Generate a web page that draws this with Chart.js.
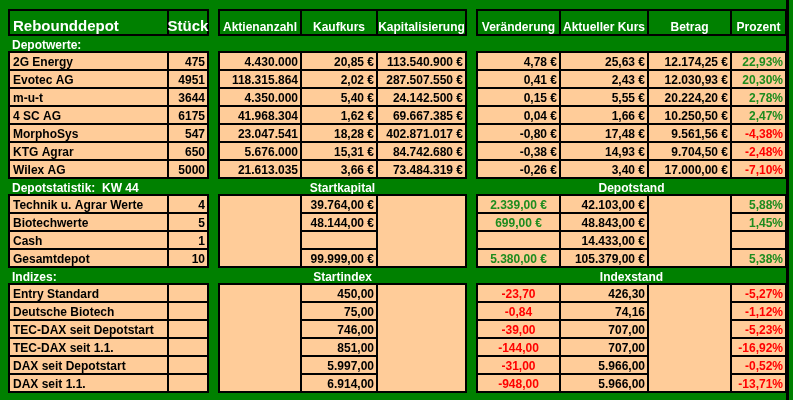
<!DOCTYPE html>
<html>
<head>
<meta charset="utf-8">
<script src="https://cdn.jsdelivr.net/npm/chart.js@4"></script>
<style>
  body { margin: 0; background: #008000; }
  #wrap { width: 793px; height: 400px; }
</style>
</head>
<body>
<div id="wrap"><canvas id="tab"></canvas></div>
<script>
// Depotwerte
const depotNames = ['2G Energy', 'Evotec AG', 'm-u-t', '4 SC AG', 'MorphoSys', 'KTG Agrar', 'Wilex AG'];
const depotStueck = ['475', '4951', '3644', '6175', '547', '650', '5000'];
const aktienanzahl = ['4.430.000', '118.315.864', '4.350.000', '41.968.304', '23.047.541', '5.676.000', '21.613.035'];
const kaufkurs = ['20,85 €', '2,02 €', '5,40 €', '1,62 €', '18,28 €', '15,31 €', '3,66 €'];
const kapitalisierung = ['113.540.900 €', '287.507.550 €', '24.142.500 €', '69.667.385 €', '402.871.017 €', '84.742.680 €', '73.484.319 €'];
const veraenderung = ['4,78 €', '0,41 €', '0,15 €', '0,04 €', '-0,80 €', '-0,38 €', '-0,26 €'];
const aktKurs = ['25,63 €', '2,43 €', '5,55 €', '1,66 €', '17,48 €', '14,93 €', '3,40 €'];
const betrag = ['12.174,25 €', '12.030,93 €', '20.224,20 €', '10.250,50 €', '9.561,56 €', '9.704,50 €', '17.000,00 €'];
const prozent = ['22,93%', '20,30%', '2,78%', '2,47%', '-4,38%', '-2,48%', '-7,10%'];

// Depotstatistik
const statNames = ['Technik u. Agrar Werte', 'Biotechwerte', 'Cash', 'Gesamtdepot'];
const statStueck = ['4', '5', '1', '10'];
const statStartkapital = ['39.764,00 €', '48.144,00 €', '', '99.999,00 €'];
const statVeraenderung = ['2.339,00 €', '699,00 €', '', '5.380,00 €'];
const statDepotstand = ['42.103,00 €', '48.843,00 €', '14.433,00 €', '105.379,00 €'];
const statProzent = ['5,88%', '1,45%', '', '5,38%'];

// Indizes
const indexNames = ['Entry Standard', 'Deutsche Biotech', 'TEC-DAX seit Depotstart', 'TEC-DAX seit 1.1.', 'DAX seit Depotstart', 'DAX seit 1.1.'];
const indexStart = ['450,00', '75,00', '746,00', '851,00', '5.997,00', '6.914,00'];
const indexVeraenderung = ['-23,70', '-0,84', '-39,00', '-144,00', '-31,00', '-948,00'];
const indexStand = ['426,30', '74,16', '707,00', '707,00', '5.966,00', '5.966,00'];
const indexProzent = ['-5,27%', '-1,12%', '-5,23%', '-16,92%', '-0,52%', '-13,71%'];

const headers = ['Rebounddepot', 'Stück', 'Aktienanzahl', 'Kaufkurs', 'Kapitalisierung', 'Veränderung', 'Aktueller Kurs', 'Betrag', 'Prozent'];

// Layout (Spaltenkanten und Zeilenhöhen)
const colEdges = [9, 168, 208, 219, 301, 377, 466, 477, 560, 648, 731, 786];
const cols = [[0, 1], [1, 2], [3, 4], [4, 5], [5, 6], [7, 8], [8, 9], [9, 10], [10, 11]];
const ROW_H = 18, LABEL_H = 17;

const GREEN = '#008000', FILL = '#ffcc99', POS = '#1e8c1e', NEG = '#ff0000';
const FONT = 'bold 12px "Liberation Sans", Arial, sans-serif';

function signColor(v) {
    return v.trim().startsWith('-') ? NEG : POS;
}

const tablePlugin = {
    id: 'tablePlugin',
    afterDraw(chart) {
        const ctx = chart.ctx;
        const sx = chart.scales.x, sy = chart.scales.y;
        const X = v => sx.getPixelForValue(v);
        const Y = v => sy.getPixelForValue(v);

        function cell(ci, y0, y1, text, opts = {}) {
            const c = cols[ci];
            const x0 = X(colEdges[c[0]]), x1 = X(colEdges[c[1]]);
            box(x0, x1, y0, y1, text, opts);
        }
        function box(x0, x1, py0, py1, text, opts = {}) {
            const t = Y(py0), b = Y(py1);
            ctx.fillStyle = opts.fill || FILL;
            ctx.fillRect(x0, t, x1 - x0, b - t);
            ctx.strokeStyle = '#000';
            ctx.lineWidth = 2;
            ctx.strokeRect(x0, t, x1 - x0, b - t);
            if (!text) return;
            ctx.font = opts.font || FONT;
            ctx.fillStyle = opts.color || '#000';
            ctx.textBaseline = 'alphabetic';
            const align = opts.align || 'right';
            ctx.textAlign = align;
            const ty = opts.ty !== undefined ? Y(opts.ty) : b - 4;
            const tx = align === 'left' ? x0 + 4 : align === 'center' ? (x0 + x1) / 2 : x1 - 3;
            ctx.fillText(text, tx, ty);
        }
        function label(x, yBottom, text, align) {
            ctx.font = FONT;
            ctx.fillStyle = '#fff';
            ctx.textAlign = align;
            ctx.textBaseline = 'alphabetic';
            ctx.fillText(text, X(x), Y(yBottom));
        }

        // Kopfzeile
        const h0 = 10, h1 = 35;
        headers.forEach((h, i) => {
            const big = i < 2;
            cell(i, h0, h1, h, {
                fill: GREEN, color: '#fff',
                align: i === 0 ? 'left' : 'center',
                font: big ? 'bold 15px "Liberation Sans", Arial, sans-serif' : FONT
            });
        });

        // Depotwerte
        let y = h1;
        label(12, y + 14, 'Depotwerte:', 'left');
        y += LABEL_H;
        depotNames.forEach((n, i) => {
            const a = y + i * ROW_H, b = a + ROW_H;
            cell(0, a, b, n, { align: 'left' });
            cell(1, a, b, depotStueck[i]);
            cell(2, a, b, aktienanzahl[i]);
            cell(3, a, b, kaufkurs[i]);
            cell(4, a, b, kapitalisierung[i]);
            cell(5, a, b, veraenderung[i]);
            cell(6, a, b, aktKurs[i]);
            cell(7, a, b, betrag[i]);
            cell(8, a, b, prozent[i], { color: signColor(prozent[i]) });
        });
        y += depotNames.length * ROW_H;

        // Depotstatistik
        label(12, y + 14, 'Depotstatistik:  KW 44', 'left');
        label((colEdges[3] + colEdges[6]) / 2, y + 14, 'Startkapital', 'center');
        label((colEdges[7] + colEdges[11]) / 2, y + 14, 'Depotstand', 'center');
        y += LABEL_H;
        const sEnd = y + statNames.length * ROW_H;
        cell(2, y, sEnd, '');
        cell(4, y, sEnd, '');
        cell(7, y, sEnd, '');
        statNames.forEach((n, i) => {
            const a = y + i * ROW_H, b = a + ROW_H;
            cell(0, a, b, n, { align: 'left' });
            cell(1, a, b, statStueck[i]);
            cell(3, a, b, statStartkapital[i]);
            cell(5, a, b, statVeraenderung[i], { color: POS, align: 'center' });
            cell(6, a, b, statDepotstand[i]);
            cell(8, a, b, statProzent[i], { color: POS });
        });
        y = sEnd;

        // Indizes
        label(12, y + 14, 'Indizes:', 'left');
        label((colEdges[3] + colEdges[6]) / 2, y + 14, 'Startindex', 'center');
        label((colEdges[7] + colEdges[11]) / 2, y + 14, 'Indexstand', 'center');
        y += LABEL_H;
        const iEnd = y + indexNames.length * ROW_H;
        cell(2, y, iEnd, '');
        cell(4, y, iEnd, '');
        cell(7, y, iEnd, '');
        indexNames.forEach((n, i) => {
            const a = y + i * ROW_H, b = a + ROW_H;
            cell(0, a, b, n, { align: 'left' });
            cell(1, a, b, '');
            cell(3, a, b, indexStart[i]);
            cell(5, a, b, indexVeraenderung[i], { color: signColor(indexVeraenderung[i]), align: 'center' });
            cell(6, a, b, indexStand[i]);
            cell(8, a, b, indexProzent[i], { color: signColor(indexProzent[i]) });
        });

        // rechter Rand
        ctx.fillStyle = '#000';
        ctx.fillRect(X(786), Y(0), 3, Y(400) - Y(0));
    }
};

new Chart(document.getElementById('tab'), {
    type: 'scatter',
    data: { datasets: [{ data: [] }] },
    options: {
        responsive: true,
        maintainAspectRatio: false,
        animation: false,
        layout: { padding: 0 },
        plugins: { legend: { display: false }, tooltip: { enabled: false } },
        scales: {
            x: { type: 'linear', min: 0, max: 793, display: false },
            y: { type: 'linear', min: 0, max: 400, reverse: true, display: false }
        }
    },
    plugins: [tablePlugin]
});
</script>
</body>
</html>
